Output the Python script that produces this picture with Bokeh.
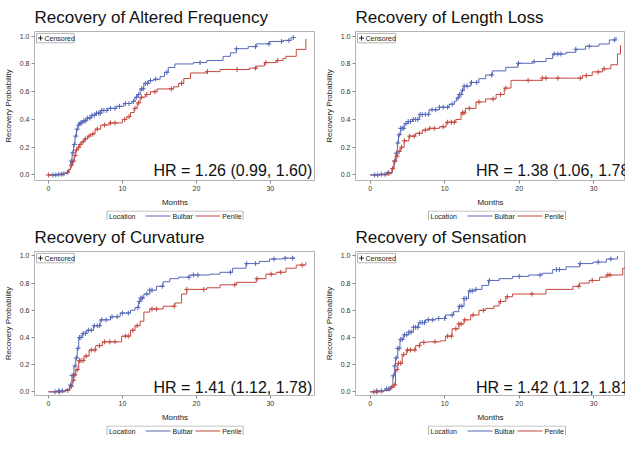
import numpy as np
from bokeh.plotting import figure
from bokeh.models import Range1d, FixedTicker, PrintfTickFormatter
from bokeh.core.properties import value
from bokeh.layouts import column, row
from bokeh.embed import file_html
from bokeh.resources import INLINE

# ---------------- data ----------------
titles = ["Recovery of Altered Frequency", "Recovery of Length Loss",
          "Recovery of Curvature", "Recovery of Sensation"]
hr_texts = ["HR = 1.26 (0.99, 1.60)", "HR = 1.38 (1.06, 1.78)",
            "HR = 1.41 (1.12, 1.78)", "HR = 1.42 (1.12, 1.81)"]
legend_title = "Location"
groups = ["Bulbar", "Penile"]
censored_label = "Censored"
x_ticks = [0, 10, 20, 30]
y_ticks = [0.0, 0.2, 0.4, 0.6, 0.8, 1.0]

# Panel 1: Altered Frequency
af_bul_t = [0, 1.2, 2.0, 2.4, 2.7, 3.0, 3.2, 3.4, 3.6, 3.8, 4.0, 4.2, 4.6, 5.2, 5.8, 6.4, 7.1, 8.0, 9.2, 10.2, 11.3, 11.7, 12.0, 12.4, 12.9, 13.5, 14.2, 15.1, 15.7, 16.2, 17.1, 19.6, 21.4, 23.6, 24.6, 25.4, 27.0, 28.1, 29.9, 31.7, 32.8]
af_bul_p = [0, 0.005, 0.010, 0.015, 0.04, 0.10, 0.16, 0.22, 0.28, 0.33, 0.36, 0.375, 0.39, 0.41, 0.43, 0.445, 0.465, 0.48, 0.495, 0.515, 0.53, 0.56, 0.58, 0.62, 0.66, 0.68, 0.69, 0.71, 0.74, 0.775, 0.80, 0.81, 0.825, 0.855, 0.88, 0.91, 0.925, 0.945, 0.962, 0.97, 0.99]
af_bul_c = [0.6, 1.0, 1.4, 1.8, 2.1, 3.1, 3.3, 3.5, 3.7, 3.9, 4.1, 4.3, 4.5, 4.8, 5.0, 5.3, 5.6, 5.9, 6.2, 6.5, 6.8, 7.0, 7.2, 7.5, 7.9, 8.4, 9.0, 9.6, 10.4, 10.9, 11.5, 11.9, 12.2, 12.6, 12.8, 13.1, 13.4, 13.8, 14.5, 16.0, 20.5, 25.4, 28.0, 29.8, 31.5, 32.5, 33.1]
af_pen_t = [0, 2.0, 2.5, 2.8, 3.0, 3.26, 3.5, 3.7, 4.0, 4.16, 4.5, 4.83, 5.3, 5.7, 6.3, 7.07, 8.2, 10.0, 10.6, 11.1, 11.6, 12.0, 12.4, 13.1, 13.8, 14.7, 16.9, 17.6, 18.3, 19.2, 21.4, 23.2, 27.2, 28.1, 29.2, 30.8, 31.7, 32.1, 33.5, 34.8]
af_pen_p = [0, 0.01, 0.02, 0.04, 0.07, 0.10, 0.14, 0.18, 0.20, 0.22, 0.24, 0.26, 0.28, 0.295, 0.33, 0.36, 0.375, 0.40, 0.42, 0.45, 0.48, 0.52, 0.56, 0.58, 0.60, 0.62, 0.635, 0.66, 0.695, 0.735, 0.745, 0.76, 0.77, 0.785, 0.81, 0.825, 0.84, 0.855, 0.905, 0.98]
af_pen_c = [0.0, 2.6, 3.1, 3.4, 3.6, 3.8, 4.1, 4.3, 4.7, 5.0, 5.5, 6.0, 6.6, 7.6, 8.4, 9.0, 10.3, 10.9, 11.7, 12.2, 12.6, 13.3, 14.4, 16.6, 18.0, 21.5, 25.5, 28.0, 29.4, 31.0]

# Panel 2: Length Loss
ll_bul_t = [0, 1.2, 2.3, 3.0, 3.2, 3.45, 3.65, 3.8, 4.1, 4.56, 5.1, 5.7, 6.6, 7.9, 9.3, 10.6, 11.3, 11.6, 11.9, 12.3, 12.6, 13.5, 14.6, 15.5, 16.4, 18.2, 19.8, 21.8, 23.6, 24.5, 26.3, 27.6, 28.9, 30.7, 32.1, 33.0]
ll_bul_p = [0, 0.005, 0.018, 0.045, 0.10, 0.157, 0.23, 0.29, 0.336, 0.37, 0.385, 0.40, 0.436, 0.47, 0.488, 0.51, 0.532, 0.555, 0.58, 0.61, 0.64, 0.667, 0.694, 0.72, 0.75, 0.776, 0.805, 0.817, 0.839, 0.872, 0.884, 0.906, 0.928, 0.944, 0.973, 0.996]
ll_bul_c = [0.6, 1.0, 1.5, 2.0, 2.4, 3.3, 3.5, 3.7, 3.9, 4.1, 4.3, 4.5, 4.8, 5.1, 5.4, 5.8, 6.1, 6.4, 6.7, 7.0, 7.4, 7.8, 8.3, 8.8, 9.3, 9.8, 10.4, 11.0, 11.8, 12.0, 12.2, 12.4, 12.6, 13.0, 13.6, 14.3, 16.3, 19.9, 22.0, 24.7, 25.2, 25.6, 27.6, 29.4, 32.8]
ll_pen_t = [0, 2.3, 2.9, 3.2, 3.45, 3.7, 4.1, 4.56, 5.2, 6.1, 7.0, 7.9, 9.3, 10.2, 11.5, 12.2, 12.8, 14.2, 15.5, 16.9, 18.0, 18.9, 23.1, 28.5, 29.8, 31.2, 32.3, 33.2, 33.6]
ll_pen_p = [0, 0.01, 0.045, 0.10, 0.135, 0.17, 0.20, 0.246, 0.28, 0.30, 0.324, 0.336, 0.347, 0.38, 0.40, 0.447, 0.48, 0.526, 0.548, 0.58, 0.626, 0.682, 0.698, 0.716, 0.743, 0.765, 0.794, 0.872, 0.935]
ll_pen_c = [2.5, 3.0, 3.3, 3.6, 3.9, 4.2, 4.6, 5.3, 5.9, 6.6, 7.4, 8.0, 8.6, 9.8, 10.4, 10.9, 11.3, 12.4, 12.6, 13.3, 14.6, 16.5, 17.5, 18.2, 21.2, 23.1, 23.6, 25.2, 28.2, 29.0, 30.6, 31.4]

# Panel 3: Curvature
cu_bul_t = [0, 1.2, 2.3, 2.9, 3.2, 3.45, 3.7, 3.9, 4.1, 4.6, 5.2, 6.1, 7.0, 8.4, 9.7, 11.1, 11.7, 12.2, 12.5, 12.9, 13.7, 14.6, 15.5, 16.4, 17.6, 19.1, 21.8, 23.2, 24.9, 26.7, 28.5, 29.9, 31.7, 33.2]
cu_bul_p = [0, 0.007, 0.018, 0.05, 0.12, 0.19, 0.25, 0.32, 0.40, 0.43, 0.453, 0.487, 0.53, 0.553, 0.58, 0.60, 0.62, 0.665, 0.69, 0.72, 0.748, 0.777, 0.81, 0.833, 0.844, 0.86, 0.866, 0.88, 0.91, 0.944, 0.96, 0.978, 0.984, 0.993]
cu_bul_c = [0.9, 1.4, 1.9, 3.0, 3.2, 3.4, 3.6, 3.8, 4.0, 4.2, 4.4, 4.7, 5.0, 5.4, 5.8, 6.2, 6.6, 6.9, 7.2, 7.8, 8.6, 9.3, 10.0, 10.8, 12.1, 12.3, 12.5, 12.7, 13.3, 13.7, 14.0, 15.4, 19.0, 19.6, 20.2, 24.6, 26.8, 28.0, 30.5, 32.0, 33.0]
cu_pen_t = [0, 2.3, 2.9, 3.2, 3.45, 3.7, 4.1, 4.8, 5.5, 6.4, 7.3, 9.9, 11.1, 11.7, 12.4, 12.9, 13.7, 15.5, 17.1, 18.0, 18.7, 21.4, 23.2, 25.4, 28.1, 29.4, 30.8, 32.1, 33.5, 34.8]
cu_pen_p = [0, 0.01, 0.04, 0.085, 0.125, 0.163, 0.23, 0.263, 0.308, 0.34, 0.368, 0.41, 0.453, 0.487, 0.52, 0.587, 0.61, 0.63, 0.654, 0.72, 0.754, 0.766, 0.788, 0.806, 0.833, 0.866, 0.88, 0.91, 0.933, 0.955]
cu_pen_c = [1.5, 2.6, 3.1, 3.4, 3.6, 3.9, 4.2, 4.4, 4.7, 5.1, 5.8, 6.3, 6.9, 7.6, 8.3, 9.0, 10.4, 10.8, 11.4, 12.0, 14.0, 14.6, 17.0, 18.7, 21.0, 25.2, 28.2, 30.1, 31.4, 34.3]

# Panel 4: Sensation
se_bul_t = [0, 0.9, 2.0, 2.7, 3.05, 3.25, 3.4, 3.7, 4.0, 4.5, 5.2, 5.8, 6.5, 7.4, 8.8, 10.1, 11.2, 11.9, 12.6, 13.2, 14.1, 15.0, 15.9, 17.3, 19.1, 21.3, 23.1, 24.5, 26.3, 28.1, 29.9, 31.7, 33.2]
se_bul_p = [0, 0.007, 0.022, 0.04, 0.118, 0.19, 0.25, 0.32, 0.386, 0.42, 0.44, 0.475, 0.51, 0.53, 0.54, 0.565, 0.59, 0.63, 0.687, 0.743, 0.754, 0.783, 0.82, 0.833, 0.85, 0.86, 0.873, 0.90, 0.92, 0.944, 0.955, 0.978, 1.0]
se_bul_c = [0.5, 0.9, 1.5, 2.2, 2.5, 3.1, 3.3, 3.5, 3.7, 3.9, 4.1, 4.3, 4.6, 4.9, 5.2, 5.5, 5.8, 6.1, 6.4, 6.7, 7.0, 7.3, 7.8, 8.4, 9.2, 10.0, 11.0, 12.0, 12.3, 12.6, 12.9, 13.4, 13.7, 14.2, 16.0, 20.0, 22.8, 25.0, 25.4, 28.2, 30.6, 32.3]
se_pen_t = [0, 1.8, 2.7, 3.1, 3.4, 3.7, 4.3, 4.9, 6.1, 6.7, 7.6, 9.4, 10.1, 11.0, 11.9, 12.6, 13.5, 14.6, 15.5, 16.6, 17.3, 18.2, 19.1, 23.6, 27.2, 28.1, 29.4, 30.8, 31.7, 33.9, 34.6]
se_pen_p = [0, 0.01, 0.033, 0.05, 0.163, 0.21, 0.275, 0.308, 0.34, 0.364, 0.368, 0.375, 0.41, 0.464, 0.50, 0.53, 0.565, 0.60, 0.614, 0.632, 0.665, 0.70, 0.72, 0.754, 0.777, 0.80, 0.82, 0.844, 0.86, 0.91, 0.978]
se_pen_c = [0.9, 2.9, 3.3, 3.6, 3.8, 4.1, 4.5, 5.0, 5.4, 6.0, 6.6, 7.2, 8.7, 10.4, 10.9, 11.5, 11.9, 12.2, 12.7, 13.8, 15.2, 17.5, 18.4, 21.7, 28.0, 29.8, 31.9, 32.2]

panels = [
    (af_bul_t, af_bul_p, af_bul_c, af_pen_t, af_pen_p, af_pen_c),
    (ll_bul_t, ll_bul_p, ll_bul_c, ll_pen_t, ll_pen_p, ll_pen_c),
    (cu_bul_t, cu_bul_p, cu_bul_c, cu_pen_t, cu_pen_p, cu_pen_c),
    (se_bul_t, se_bul_p, se_bul_c, se_pen_t, se_pen_p, se_pen_c),
]

# ---------------- styling / layout ----------------
BLUE = "#5568b8"
RED = "#c4483e"
FONT = "Liberation Sans"
FRAME = "#b4b4b4"
HR_X, HR_Y = 14.2, 0.03
BORDER_BOTTOM = 27
LEG_H = 11

# (width, frame_left, x0, x1, y0, y1, plot_h)
geom = [
    (315, 32, -1.88, 36.1, -0.04, 1.034, 209),
    (310, 40, -1.97, 34.27, -0.04, 1.034, 209),
    (315, 32, -1.88, 36.1, -0.027, 1.033, 204),
    (310, 40, -1.97, 34.27, -0.027, 1.033, 204),
]


def step_at(t, p, c):
    t = np.asarray(t)
    p = np.asarray(p)
    idx = np.searchsorted(t, np.asarray(c), side="right") - 1
    idx = np.clip(idx, 0, len(p) - 1)
    return p[idx]


def legend_strip(width, fl):
    f = figure(width=width, height=LEG_H, output_backend="svg",
               toolbar_location=None, x_range=Range1d(fl, width),
               y_range=Range1d(0, LEG_H), x_axis_location=None,
               y_axis_location=None, min_border_left=fl, min_border_right=0,
               min_border_top=0, min_border_bottom=0)
    f.outline_line_color = None
    f.xgrid.grid_line_color = None
    f.ygrid.grid_line_color = None
    ym = LEG_H / 2
    f.quad(left=[fl + 73], right=[fl + 210], bottom=[0.5], top=[LEG_H - 0.5],
           fill_color="white", line_color=FRAME, line_width=1)
    f.text(x=[fl + 75], y=[ym], text=[legend_title], text_font=value(FONT),
           text_font_size=value("7px"), text_color="#222222",
           text_baseline="middle", text_align="left")
    f.segment(x0=[fl + 112, fl + 162], y0=[ym, ym], x1=[fl + 137, fl + 187],
              y1=[ym, ym], line_color=[BLUE, RED], line_width=1)
    f.text(x=[fl + 139, fl + 189], y=[ym, ym], text=groups,
           text_font=value(FONT), text_font_size=value("7px"),
           text_color="#222222", text_baseline="middle", text_align="left")
    return f


def make_panel(i):
    w, fl, x0, x1, y0, y1, ph = geom[i]
    bt_, bp_, bc_, pt_, pp_, pc_ = panels[i]

    p = figure(width=w, height=ph, output_backend="svg",
               toolbar_location=None, x_range=Range1d(x0, x1),
               y_range=Range1d(y0, y1), min_border_left=fl,
               min_border_right=0, min_border_bottom=BORDER_BOTTOM,
               title=titles[i])
    p.title.text_font = FONT
    p.title.text_font_size = "17px"
    p.title.text_font_style = "normal"
    p.title.text_color = "#111111"
    p.xgrid.grid_line_color = None
    p.ygrid.grid_line_color = None
    p.outline_line_color = FRAME
    for ax in (p.xaxis, p.yaxis):
        ax.axis_line_color = None
        ax.major_tick_line_color = "#8a8a8a"
        ax.major_tick_out = 3
        ax.major_tick_in = 0
        ax.minor_tick_line_color = None
        ax.major_label_text_font = FONT
        ax.major_label_text_font_size = "7px"
        ax.major_label_text_color = "#333333"
        ax.axis_label_text_font = FONT
        ax.axis_label_text_font_size = "8px"
        ax.axis_label_text_font_style = "normal"
        ax.axis_label_text_color = "#222222"
        ax.major_label_standoff = 2
        ax.axis_label_standoff = 4
    p.xaxis.ticker = FixedTicker(ticks=x_ticks)
    p.yaxis.ticker = FixedTicker(ticks=y_ticks)
    p.yaxis.formatter = PrintfTickFormatter(format="%.1f")
    p.xaxis.axis_label = "Months"
    p.yaxis.axis_label = "Recovery Probability"

    p.step(bt_, bp_, mode="after", line_color=BLUE, line_width=1)
    p.step(pt_, pp_, mode="after", line_color=RED, line_width=1)
    p.scatter(bc_, step_at(bt_, bp_, bc_), marker="cross", size=5,
              line_color=BLUE, line_width=1)
    p.scatter(pc_, step_at(pt_, pp_, pc_), marker="cross", size=5,
              line_color=RED, line_width=1)

    # "+ Censored" key box, placed a few pixels from the frame's top-left
    fw = w - fl
    fh = 158 if ph > 205 else 153
    kx = fw / (x1 - x0)
    ky = fh / (y1 - y0)
    p.quad(left=[x0 + 2 / kx], right=[x0 + 40 / kx], top=[y1 - 2 / ky],
           bottom=[y1 - 12 / ky], fill_color="white", line_color=FRAME,
           line_width=1)
    p.scatter([x0 + 6 / kx], [y1 - 7 / ky], marker="cross", size=5,
              line_color="#222222", line_width=1)
    p.text(x=[x0 + 10 / kx], y=[y1 - 7 / ky], text=[censored_label],
           text_font=value(FONT), text_font_size=value("7px"),
           text_color="#222222", text_baseline="middle", text_align="left")

    p.text(x=[HR_X], y=[HR_Y], text=[hr_texts[i]], text_font=value(FONT),
           text_font_size=value("16px"), text_color="#111111",
           text_baseline="alphabetic", text_align="left")

    return column(p, legend_strip(w, fl))


layout = column(row(make_panel(0), make_panel(1)),
                row(make_panel(2), make_panel(3)))
open("out.html", "w").write(file_html(layout, INLINE))
